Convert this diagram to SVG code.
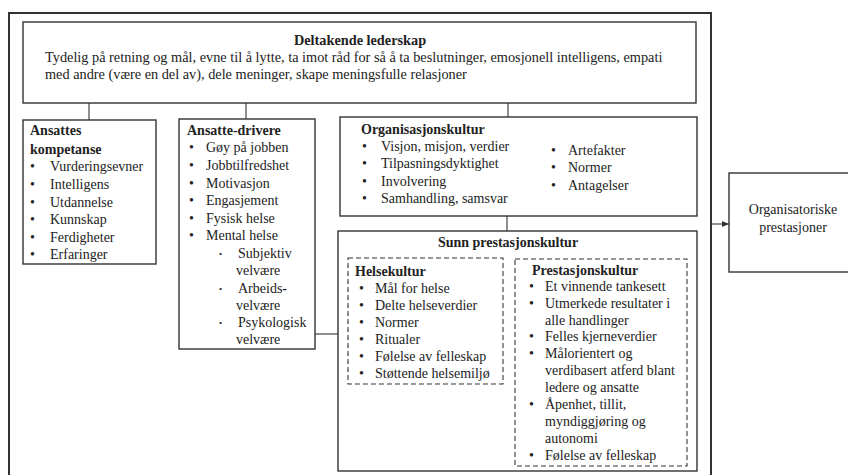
<svg xmlns="http://www.w3.org/2000/svg" width="848" height="475" viewBox="0 0 848 475">
<style>
  .box{fill:#fff;stroke:#333;stroke-width:1.4}
  .dash{fill:none;stroke:#333;stroke-width:1.1;stroke-dasharray:5 3}
  .frame{fill:none;stroke:#333;stroke-width:2}
  .ln{fill:none;stroke:#333;stroke-width:1.1}
  .b{font-weight:bold}
  .t15{font-size:14.3px}
  .c{text-anchor:middle}
  .sb{font-size:9px}
</style>
<defs>
  <marker id="arr" markerWidth="8" markerHeight="8" refX="7" refY="4" orient="auto" markerUnits="userSpaceOnUse">
    <path d="M0,1 L7,4 L0,7 Z" fill="#333"/>
  </marker>
</defs>
<g font-family="Liberation Serif" font-size="14" fill="#222">
<rect class="frame" x="9" y="13" width="702" height="470"/>
<g id="connectors">
  <line class="ln" x1="89" y1="103" x2="89" y2="120"/>
  <line class="ln" x1="246" y1="103" x2="246" y2="119"/>
  <line class="ln" x1="508" y1="103" x2="508" y2="117"/>
  <line class="ln" x1="507" y1="216" x2="507" y2="231"/>
  <line class="ln" x1="315" y1="334" x2="338" y2="334"/>
  <line class="ln" x1="503" y1="334" x2="515" y2="334"/>
  <line class="ln" x1="711" y1="224" x2="729" y2="224" marker-end="url(#arr)"/>
</g>
<g id="lederskap">
  <rect class="box" x="23" y="22" width="673" height="81"/>
  <text class="b t15 c" x="360" y="45">Deltakende lederskap</text>
  <text class="t15" x="45" y="62">Tydelig på retning og mål, evne til å lytte, ta imot råd for så å ta beslutninger, emosjonell intelligens, empati</text>
  <text class="t15" x="45" y="79">med andre (være en del av), dele meninger, skape meningsfulle relasjoner</text>
</g>
<g id="kompetanse">
  <rect class="box" x="23" y="120" width="133" height="144"/>
  <text class="b" x="30" y="135">Ansattes</text>
  <text class="b" x="30" y="154">kompetanse</text>
  <text x="30" y="171">•</text><text x="50" y="171">Vurderingsevner</text>
  <text x="30" y="189">•</text><text x="50" y="189">Intelligens</text>
  <text x="30" y="207">•</text><text x="50" y="207">Utdannelse</text>
  <text x="30" y="224">•</text><text x="50" y="224">Kunnskap</text>
  <text x="30" y="242">•</text><text x="50" y="242">Ferdigheter</text>
  <text x="30" y="259">•</text><text x="50" y="259">Erfaringer</text>
</g>
<g id="drivere">
  <rect class="box" x="179" y="119" width="136" height="230"/>
  <text class="b" x="187" y="135">Ansatte-drivere</text>
  <text x="189" y="152">•</text><text x="206" y="152">Gøy på jobben</text>
  <text x="189" y="170">•</text><text x="206" y="170">Jobbtilfredshet</text>
  <text x="189" y="188">•</text><text x="206" y="188">Motivasjon</text>
  <text x="189" y="205">•</text><text x="206" y="205">Engasjement</text>
  <text x="189" y="223">•</text><text x="206" y="223">Fysisk helse</text>
  <text x="189" y="240">•</text><text x="206" y="240">Mental helse</text>
  <text class="sb" x="219" y="257">•</text><text x="238" y="258">Subjektiv</text>
  <text x="236" y="275">velvære</text>
  <text class="sb" x="219" y="292">•</text><text x="238" y="293">Arbeids<tspan class="b">-</tspan></text>
  <text x="236" y="310">velvære</text>
  <text class="sb" x="219" y="326">•</text><text x="238" y="327">Psykologisk</text>
  <text x="236" y="344">velvære</text>
</g>
<g id="organisasjonskultur">
  <rect class="box" x="340" y="117" width="357" height="99"/>
  <text class="b" x="361" y="134">Organisasjonskultur</text>
  <text x="362" y="151">•</text><text x="381" y="151">Visjon, misjon, verdier</text>
  <text x="362" y="168">•</text><text x="381" y="168">Tilpasningsdyktighet</text>
  <text x="362" y="186">•</text><text x="381" y="186">Involvering</text>
  <text x="362" y="203">•</text><text x="381" y="203">Samhandling, samsvar</text>
  <text x="551" y="155">•</text><text x="568" y="155">Artefakter</text>
  <text x="551" y="172">•</text><text x="568" y="172">Normer</text>
  <text x="551" y="190">•</text><text x="568" y="190">Antagelser</text>
</g>
<g id="sunn">
  <rect class="box" x="338" y="231" width="359" height="240"/>
  <text class="b c" x="508" y="247">Sunn prestasjonskultur</text>
</g>
<g id="helsekultur">
  <rect class="dash" x="348" y="258" width="155" height="126"/>
  <text class="b" x="355" y="276">Helsekultur</text>
  <text x="359" y="293">•</text><text x="375" y="293">Mål for helse</text>
  <text x="359" y="310">•</text><text x="375" y="310">Delte helseverdier</text>
  <text x="359" y="327">•</text><text x="375" y="327">Normer</text>
  <text x="359" y="344">•</text><text x="375" y="344">Ritualer</text>
  <text x="359" y="361">•</text><text x="375" y="361">Følelse av felleskap</text>
  <text x="359" y="378">•</text><text x="375" y="378">Støttende helsemiljø</text>
</g>
<g id="prestasjonskultur">
  <rect class="dash" x="515" y="259" width="172" height="207"/>
  <text class="b" x="532" y="275">Prestasjonskultur</text>
  <text x="529" y="291">•</text><text x="545" y="291">Et vinnende tankesett</text>
  <text x="529" y="308">•</text><text x="545" y="308">Utmerkede resultater i</text>
  <text x="545" y="325">alle handlinger</text>
  <text x="529" y="341">•</text><text x="545" y="341">Felles kjerneverdier</text>
  <text x="529" y="358">•</text><text x="545" y="358">Målorientert og</text>
  <text x="545" y="375">verdibasert atferd blant</text>
  <text x="545" y="392">ledere og ansatte</text>
  <text x="529" y="409">•</text><text x="545" y="409">Åpenhet, tillit,</text>
  <text x="545" y="426">myndiggjøring og</text>
  <text x="545" y="443">autonomi</text>
  <text x="529" y="460">•</text><text x="545" y="460">Følelse av felleskap</text>
</g>
<g id="prestasjoner">
  <rect class="box" x="729" y="173" width="125" height="99"/>
  <text class="c" x="793" y="214">Organisatoriske</text>
  <text class="c" x="793" y="232">prestasjoner</text>
</g>
</g>
</svg>
